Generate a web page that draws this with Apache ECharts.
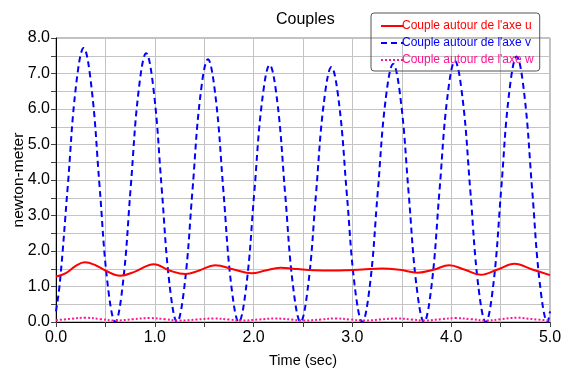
<!DOCTYPE html>
<html>
<head>
<meta charset="utf-8">
<script src="https://cdn.jsdelivr.net/npm/echarts@6/dist/echarts.min.js"></script>
<style>
  html, body { margin: 0; padding: 0; background: #fff; }
  #chart { width: 562px; height: 369px; }
</style>
</head>
<body>
<div id="chart"></div>
<script>
// couple autour de l'axe u (solid red)
const timeU = [0, 0.1, 0.2, 0.29, 0.4, 0.5, 0.65, 0.8, 0.99, 1.15, 1.31, 1.45, 1.61, 1.8, 1.98, 2.12, 2.27, 2.45, 2.61, 2.8, 2.95, 3.1, 3.3, 3.48, 3.66, 3.82, 3.98, 4.14, 4.3, 4.47, 4.64, 4.82, 5.0];
const coupleU = [1.28, 1.38, 1.58, 1.68, 1.6, 1.45, 1.3, 1.42, 1.63, 1.45, 1.35, 1.45, 1.6, 1.48, 1.37, 1.45, 1.53, 1.49, 1.46, 1.45, 1.46, 1.48, 1.51, 1.47, 1.39, 1.47, 1.6, 1.47, 1.33, 1.48, 1.64, 1.48, 1.32];

// couple autour de l'axe v (dashed blue)
const timeV = [0, 0.04, 0.12, 0.2, 0.28, 0.36, 0.44, 0.52, 0.6,
  0.678, 0.756, 0.834, 0.9125, 0.991, 1.069, 1.147, 1.225,
  1.303, 1.381, 1.459, 1.5375, 1.616, 1.694, 1.772, 1.85,
  1.928, 2.006, 2.084, 2.1625, 2.241, 2.319, 2.397, 2.475,
  2.553, 2.631, 2.709, 2.7875, 2.866, 2.944, 3.022, 3.1,
  3.178, 3.256, 3.334, 3.4125, 3.491, 3.569, 3.647, 3.725,
  3.803, 3.881, 3.959, 4.0375, 4.116, 4.194, 4.272, 4.35,
  4.428, 4.506, 4.584, 4.6625, 4.741, 4.819, 4.897, 4.975, 5.0];
const coupleV = [0.3, 1.13, 3.86, 6.59, 7.72, 6.59, 3.86, 1.13, 0,
  1.11, 3.79, 6.46, 7.57, 6.46, 3.79, 1.11, 0,
  1.08, 3.7, 6.32, 7.4, 6.32, 3.7, 1.08, 0,
  1.06, 3.62, 6.18, 7.24, 6.18, 3.62, 1.06, 0,
  1.05, 3.59, 6.13, 7.18, 6.13, 3.59, 1.05, 0,
  1.06, 3.64, 6.21, 7.27, 6.21, 3.64, 1.06, 0,
  1.07, 3.68, 6.28, 7.35, 6.28, 3.68, 1.07, 0,
  1.09, 3.74, 6.39, 7.48, 6.39, 3.74, 1.09, 0, 0.3];

// couple autour de l'axe w (dotted pink)
const timeW = [0, 0.15, 0.3, 0.45, 0.6, 0.78, 0.95, 1.1, 1.25, 1.42, 1.6, 1.75, 1.88, 2.05, 2.22, 2.38, 2.5, 2.68, 2.83, 2.98, 3.12, 3.28, 3.45, 3.6, 3.73, 3.9, 4.05, 4.2, 4.35, 4.5, 4.67, 4.83, 5.0];
const coupleW = [0.05, 0.09, 0.12, 0.08, 0.04, 0.08, 0.11, 0.08, 0.04, 0.07, 0.1, 0.07, 0.04, 0.07, 0.1, 0.07, 0.04, 0.07, 0.1, 0.07, 0.04, 0.07, 0.1, 0.07, 0.04, 0.08, 0.11, 0.08, 0.04, 0.08, 0.12, 0.08, 0.04];

const seriesNames = ["Couple autour de l'axe u", "Couple autour de l'axe v", "Couple autour de l'axe w"];
const colors = ['#ff0000', '#0000ff', '#ff1493'];

function pairs(xs, ys) {
  return xs.map((x, i) => [x, ys[i]]);
}

const font = 'Liberation Sans, Arial, sans-serif';
const chart = echarts.init(document.getElementById('chart'));

chart.setOption({
  animation: false,
  title: {
    text: 'Couples',
    left: 271,
    top: 7,
    textStyle: { fontFamily: font, fontSize: 16, fontWeight: 'normal', color: '#000' }
  },
  legend: {
    orient: 'vertical',
    left: 371,
    top: 13,
    padding: [7, 6, 5, 9],
    itemGap: 5,
    itemWidth: 22,
    itemHeight: 12,
    borderColor: '#555',
    borderWidth: 1,
    borderRadius: 3,
    itemStyle: { opacity: 0 },
    data: seriesNames.map((n, i) => ({ name: n, textStyle: { color: colors[i] } })),
    textStyle: { fontFamily: font, fontSize: 12, padding: [0, 0, 0, -6] }
  },
  grid: {
    left: 56,
    right: 12,
    top: 38,
    bottom: 47,
    outerBoundsMode: 'none',
    containLabel: false,
    show: true,
    borderColor: '#808080',
    borderWidth: 1
  },
  xAxis: {
    type: 'value',
    min: 0,
    max: 5,
    interval: 1,
    name: 'Time (sec)',
    nameLocation: 'middle',
    nameGap: 31,
    nameMoveOverlap: false,
    nameTextStyle: { fontFamily: font, fontSize: 14.5, color: '#000' },
    axisLine: { onZero: false, lineStyle: { color: '#000' } },
    axisTick: { length: 5, lineStyle: { color: '#444' } },
    minorTick: { show: true, splitNumber: 2, length: 5, lineStyle: { color: '#444' } },
    axisLabel: { fontFamily: font, fontSize: 16, color: '#000', margin: 8, formatter: v => v.toFixed(1) },
    splitLine: { show: true, lineStyle: { color: '#c4c4c4' } },
    minorSplitLine: { show: true, lineStyle: { color: '#c4c4c4' } }
  },
  yAxis: {
    type: 'value',
    min: 0,
    max: 8,
    interval: 1,
    name: 'newton-meter',
    nameLocation: 'middle',
    nameGap: 29,
    nameMoveOverlap: false,
    nameTextStyle: { fontFamily: font, fontSize: 15.5, color: '#000' },
    axisLine: { show: true, lineStyle: { color: '#000' } },
    axisTick: { show: true, length: 5, lineStyle: { color: '#444' } },
    minorTick: { show: true, splitNumber: 2, length: 5, lineStyle: { color: '#444' } },
    axisLabel: { fontFamily: font, fontSize: 16, color: '#000', margin: 6, formatter: v => v.toFixed(1) },
    splitLine: { show: true, lineStyle: { color: '#c4c4c4' } },
    minorSplitLine: { show: true, lineStyle: { color: '#c4c4c4' } }
  },
  series: [
    {
      name: seriesNames[0],
      type: 'line',
      data: pairs(timeU, coupleU),
      smooth: 0.4,
      showSymbol: false,
      symbol: 'none',
      lineStyle: { color: colors[0], width: 2, type: 'solid' },
      itemStyle: { color: colors[0] },
      z: 3
    },
    {
      name: seriesNames[1],
      type: 'line',
      data: pairs(timeV, coupleV),
      smooth: 0.4,
      showSymbol: false,
      symbol: 'none',
      lineStyle: { color: colors[1], width: 2, type: [6, 4] },
      itemStyle: { color: colors[1] },
      z: 2
    },
    {
      name: seriesNames[2],
      type: 'line',
      data: pairs(timeW, coupleW),
      smooth: 0.4,
      showSymbol: false,
      symbol: 'none',
      lineStyle: { color: colors[2], width: 2, type: [2, 2] },
      itemStyle: { color: colors[2] },
      z: 4
    }
  ]
});
</script>
</body>
</html>
